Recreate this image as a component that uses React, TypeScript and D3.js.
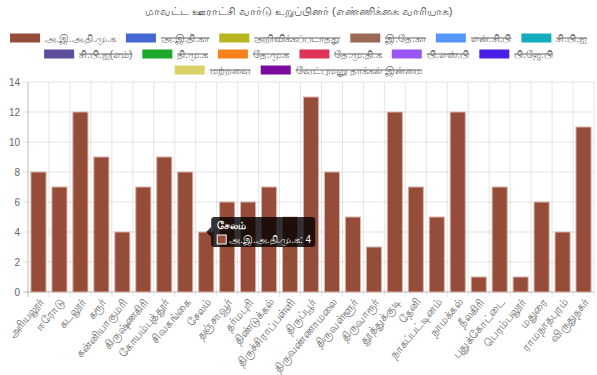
import React from "react";
import * as d3 from "d3";

const titleText = "மாவட்ட ஊராட்சி வார்டு உறுப்பினர் (எண்ணிக்கை வாரியாக)";

const categories = [
  "அரியலூர்", "ஈரோடு", "கடலூர்", "கரூர்", "கன்னியாகுமரி", "கிருஷ்ணகிரி",
  "கோயம்புத்தூர்", "சிவகங்கை", "சேலம்", "தஞ்சாவூர்", "தர்மபுரி", "திண்டுக்கல்",
  "திருச்சிராப்பள்ளி", "திருப்பூர்", "திருவண்ணாமலை", "திருவள்ளூர்", "திருவாரூர்",
  "தூத்துக்குடி", "தேனி", "நாகப்பட்டினம்", "நாமக்கல்", "நீலகிரி", "புதுக்கோட்டை",
  "பெரம்பலூர்", "மதுரை", "ராமநாதபுரம்", "விருதுநகர்",
];

const aiadmkValues = [8, 7, 12, 9, 4, 7, 9, 8, 4, 6, 6, 7, 5, 13, 8, 5, 3, 12, 7, 5, 12, 1, 7, 1, 6, 4, 11];

const legendLabels = [
  "அ.இ.அ.தி.மு.க", "அ.இ.தி.கா", "அறிவிக்கப்படாதது", "இ.தே.கா", "என்.சி.பி", "சி.பி.ஐ",
  "சி.பி.ஐ(எம்)", "தி.மு.க", "தே.மு.க", "தே.மு.தி.க", "பி.எஸ்.பி", "பி.ஜே.பி",
  "மற்றவை", "வேட்புமனு தாக்கல் இன்மை",
];
const legendColors = [
  "#954c39", "#4468d2", "#b8b51f", "#9b6a57", "#5596fb", "#13acbf",
  "#5d4d9c", "#1ca92b", "#f5821d", "#e03358", "#9a57f3", "#4a1de8",
  "#dcd068", "#7b0a9e",
];
const legendHidden = [false, true, true, true, true, true, true, true, true, true, true, true, true, true];

const yTicks = [0, 2, 4, 6, 8, 10, 12, 14];
const tooltipIndex = 8;

const W = 597;
const H = 375;
const FONT = "'Helvetica Neue', Helvetica, Arial, sans-serif";

let ctx: CanvasRenderingContext2D | null = null;
function measure(text: string, size: number, weight = "normal") {
  if (!ctx) ctx = document.createElement("canvas").getContext("2d");
  if (!ctx) return text.length * size * 0.6;
  ctx.font = `${weight} ${size}px ${FONT}`;
  return ctx.measureText(text).width;
}

export default function App() {
  const left = 28;
  const right = 594;
  const top = 82;
  const bottom = 292;

  const x = d3.scaleBand<string>().domain(categories).range([left, right]).padding(0);
  const y = d3.scaleLinear().domain([0, 14]).range([bottom, top]);
  const bw = x.bandwidth();
  const barW = bw * 0.72;

  // legend layout (Chart.js-like)
  const fs = 10;
  const boxW = 30;
  const pad = 10;
  const items = legendLabels.map((l, i) => ({
    label: l,
    color: legendColors[i],
    hidden: legendHidden[i],
    tw: measure(l, fs),
  }));
  const rows: { items: typeof items; width: number }[] = [];
  items.forEach((it) => {
    const w = boxW + fs / 2 + it.tw;
    const last = rows[rows.length - 1];
    if (!last || last.width + w + pad > W - 10) {
      rows.push({ items: [it], width: w });
    } else {
      last.items.push(it);
      last.width += w + pad;
    }
  });

  // tooltip
  const tCat = categories[tooltipIndex];
  const tVal = aiadmkValues[tooltipIndex];
  const tLine = `${legendLabels[0]}: ${tVal}`;
  const tTitleW = measure(tCat, fs, "bold");
  const tLineW = 10 + 2 + measure(tLine, fs);
  const tW = Math.max(tTitleW, tLineW) + 10;
  const tH = 30;
  const caretX = (x(tCat) as number) + bw / 2;
  const caretY = y(tVal);
  const tX = caretX + 5;
  const tY = caretY - tH / 2;

  return (
    <div style={{ position: "absolute", left: 0, top: 0 }}>
      <svg width={W} height={H} style={{ display: "block", fontFamily: FONT }}>
        <rect width={W} height={H} fill="#fff" />
        <text x={W / 2} y={15} textAnchor="middle" fontSize={11} fill="#555">
          {titleText}
        </text>

        {rows.map((row, ri) => {
          let cx = (W - row.width) / 2;
          const cy = 38 + ri * 16;
          return (
            <g key={ri}>
              {row.items.map((it, ii) => {
                const bx = cx;
                cx += boxW + fs / 2 + it.tw + pad;
                return (
                  <g key={ii}>
                    <rect x={bx} y={cy - 4.5} width={boxW} height={9} fill={it.color} />
                    <text x={bx + boxW + fs / 2} y={cy} dy="0.35em" fontSize={fs} fill="#666">
                      {it.label}
                    </text>
                    {it.hidden && (
                      <line
                        x1={bx + boxW + fs / 2}
                        x2={bx + boxW + fs / 2 + it.tw}
                        y1={cy}
                        y2={cy}
                        stroke="#666"
                        strokeWidth={1}
                      />
                    )}
                  </g>
                );
              })}
            </g>
          );
        })}

        {/* horizontal grid */}
        {yTicks.map((t) => (
          <g key={t}>
            <line
              x1={left - 5}
              x2={right}
              y1={y(t)}
              y2={y(t)}
              stroke={t === 0 ? "rgba(0,0,0,0.25)" : "rgba(0,0,0,0.1)"}
            />
            <text x={left - 8} y={y(t)} dy="0.35em" textAnchor="end" fontSize={fs} fill="#666">
              {t}
            </text>
          </g>
        ))}
        {/* vertical grid */}
        {d3.range(categories.length + 1).map((i) => {
          const gx = left + i * bw;
          return (
            <line
              key={i}
              x1={gx}
              x2={gx}
              y1={top}
              y2={bottom + 5}
              stroke={i === 0 ? "rgba(0,0,0,0.25)" : "rgba(0,0,0,0.1)"}
            />
          );
        })}

        {/* bars */}
        {categories.map((c, i) => {
          const bx = (x(c) as number) + (bw - barW) / 2;
          return (
            <rect
              key={c}
              x={bx}
              y={y(aiadmkValues[i])}
              width={barW}
              height={bottom - y(aiadmkValues[i])}
              fill={legendColors[0]}
              stroke="#dcb4aa"
              strokeWidth={1}
            />
          );
        })}

        {/* x labels */}
        {categories.map((c) => {
          const cx = (x(c) as number) + bw / 2;
          return (
            <text
              key={c}
              transform={`translate(${cx + 3},${bottom + 8}) rotate(-50)`}
              textAnchor="end"
              dy="0.35em"
              fontSize={11}
              fill="#666"
            >
              {c}
            </text>
          );
        })}

        {/* tooltip */}
        <g>
          <path
            d={`M${caretX},${caretY} L${tX},${caretY - 5} L${tX},${caretY + 5} Z`}
            fill="rgba(0,0,0,0.8)"
          />
          <rect x={tX} y={tY} width={tW} height={tH} rx={3} fill="rgba(0,0,0,0.8)" />
          <text x={tX + 6} y={tY + 8} dy="0.35em" fontSize={fs} fontWeight="bold" fill="#fff">
            {tCat}
          </text>
          <rect x={tX + 6} y={tY + 18} width={9} height={9} fill={legendColors[0]} stroke="#fff" strokeWidth={1} />
          <text x={tX + 18} y={tY + 22.5} dy="0.35em" fontSize={fs} fill="#fff">
            {tLine}
          </text>
        </g>
      </svg>
    </div>
  );
}
